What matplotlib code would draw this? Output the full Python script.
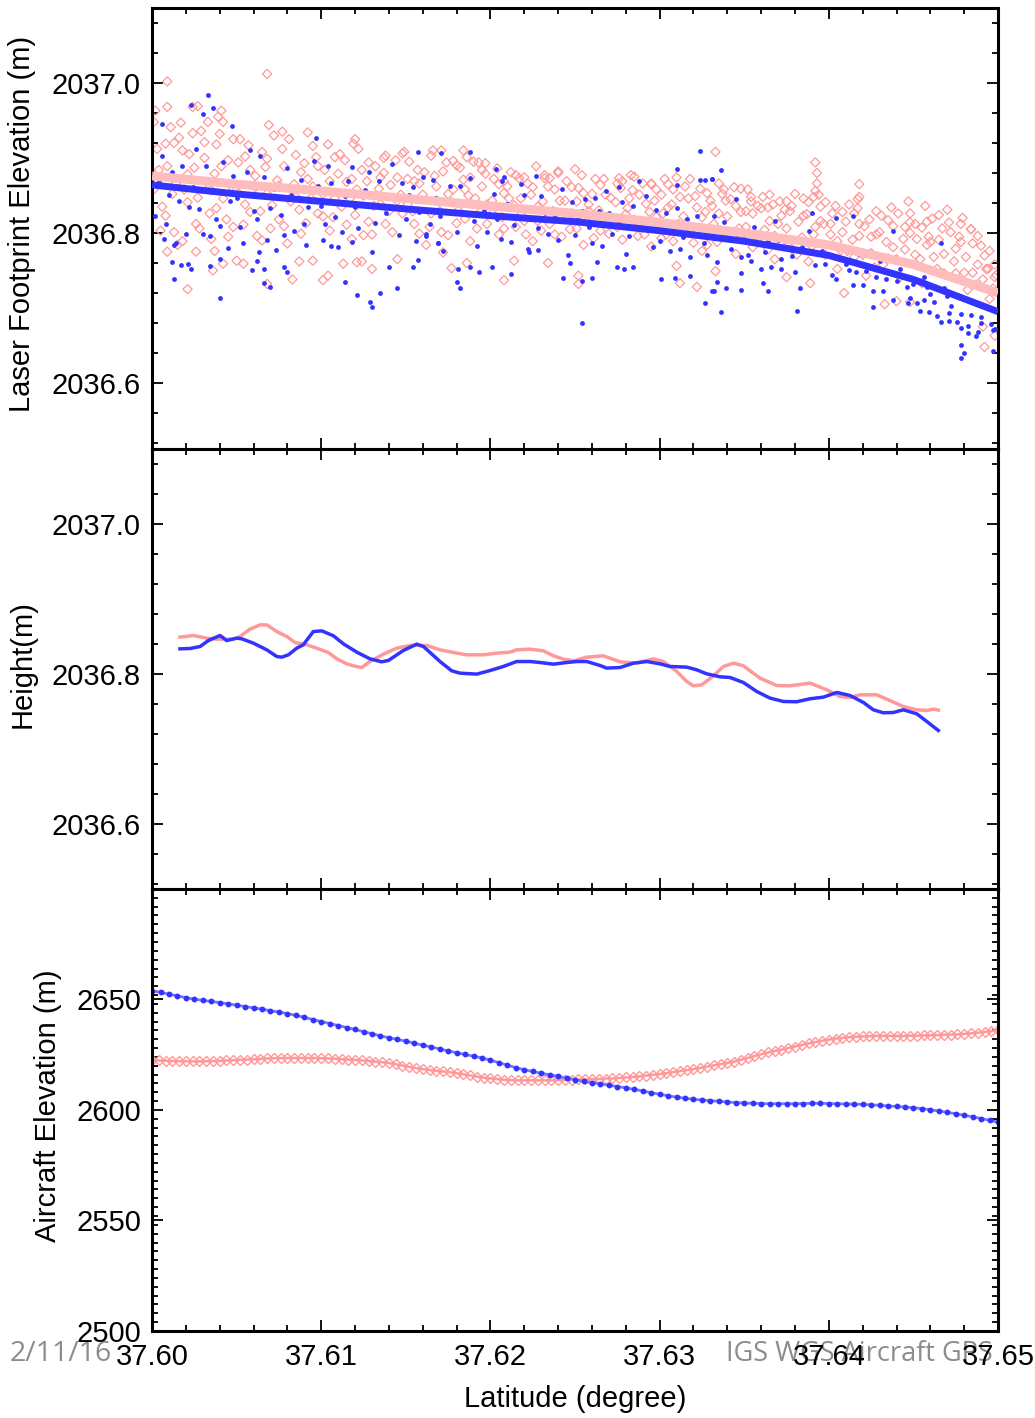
import numpy as np
import matplotlib
matplotlib.use("Agg")
import matplotlib.pyplot as plt
from matplotlib.ticker import MultipleLocator, FixedLocator, FormatStrFormatter

plt.rcParams["font.family"] = ["Liberation Sans", "DejaVu Sans"]

# ---- laser footprint elevations (lat, elev) ----
laser_pink_pts = [
    # dense core
    (37.6003, 2036.912), (37.6006, 2036.835), (37.6009, 2036.889), (37.6013, 2036.801), (37.6016, 2036.927),
    (37.6019, 2036.858), (37.6022, 2036.905), (37.6026, 2036.812), (37.6029, 2036.936), (37.6032, 2036.868),
    (37.6035, 2036.792), (37.6038, 2036.918), (37.6042, 2036.846), (37.6045, 2036.897), (37.6048, 2036.808),
    (37.6052, 2036.925), (37.6055, 2036.838), (37.6058, 2036.884), (37.6062, 2036.796), (37.6065, 2036.908),
    (37.6068, 2036.852), (37.6072, 2036.930), (37.6075, 2036.818), (37.6078, 2036.889), (37.6082, 2036.842),
    (37.6085, 2036.904), (37.6088, 2036.799), (37.6092, 2036.872), (37.6095, 2036.916), (37.6098, 2036.826),
    (37.6102, 2036.884), (37.6105, 2036.803), (37.6108, 2036.901), (37.6112, 2036.835), (37.6115, 2036.868),
    (37.6118, 2036.792), (37.6122, 2036.912), (37.6125, 2036.850), (37.6128, 2036.815), (37.6132, 2036.889),
    (37.6135, 2036.838), (37.6138, 2036.903), (37.6142, 2036.801), (37.6145, 2036.874), (37.6148, 2036.826),
    (37.6152, 2036.895), (37.6155, 2036.812), (37.6158, 2036.866), (37.6162, 2036.784), (37.6165, 2036.903),
    (37.6168, 2036.843), (37.6172, 2036.882), (37.6175, 2036.797), (37.6178, 2036.858), (37.6182, 2036.887),
    (37.6185, 2036.819), (37.6188, 2036.874), (37.6192, 2036.806), (37.6195, 2036.862), (37.6198, 2036.838),
    (37.6202, 2036.872), (37.6205, 2036.798), (37.6208, 2036.853), (37.6212, 2036.881), (37.6215, 2036.808),
    (37.6218, 2036.846), (37.6222, 2036.866), (37.6225, 2036.789), (37.6228, 2036.835), (37.6232, 2036.877),
    (37.6235, 2036.812), (37.6238, 2036.858), (37.6242, 2036.795), (37.6245, 2036.869), (37.6248, 2036.826),
    (37.6252, 2036.860), (37.6255, 2036.784), (37.6258, 2036.838), (37.6262, 2036.872), (37.6265, 2036.803),
    (37.6268, 2036.851), (37.6272, 2036.818), (37.6275, 2036.866), (37.6278, 2036.791), (37.6282, 2036.846),
    (37.6285, 2036.875), (37.6288, 2036.808), (37.6292, 2036.839), (37.6295, 2036.782), (37.6298, 2036.858),
    (37.6302, 2036.826), (37.6305, 2036.865), (37.6308, 2036.789), (37.6312, 2036.848), (37.6315, 2036.806),
    (37.6318, 2036.872), (37.6322, 2036.834), (37.6325, 2036.776), (37.6328, 2036.853), (37.6332, 2036.812),
    (37.6335, 2036.866), (37.6338, 2036.795), (37.6342, 2036.845), (37.6345, 2036.772), (37.6348, 2036.828),
    (37.6352, 2036.858), (37.6355, 2036.781), (37.6358, 2036.836), (37.6362, 2036.804), (37.6365, 2036.851),
    (37.6368, 2036.765), (37.6372, 2036.823), (37.6375, 2036.842), (37.6378, 2036.779), (37.6382, 2036.815),
    (37.6385, 2036.846), (37.6388, 2036.762), (37.6392, 2036.808), (37.6395, 2036.835), (37.6398, 2036.771),
    (37.6402, 2036.826), (37.6405, 2036.752), (37.6408, 2036.801), (37.6412, 2036.838), (37.6415, 2036.768),
    (37.6418, 2036.812), (37.6422, 2036.743), (37.6425, 2036.795), (37.6428, 2036.829), (37.6432, 2036.758),
    (37.6435, 2036.817), (37.6438, 2036.781), (37.6442, 2036.741), (37.6445, 2036.808), (37.6448, 2036.826),
    (37.6452, 2036.792), (37.6455, 2036.733), (37.6458, 2036.815), (37.6462, 2036.768), (37.6465, 2036.824),
    (37.6468, 2036.746), (37.6472, 2036.801), (37.6475, 2036.779), (37.6478, 2036.812), (37.6482, 2036.724),
    (37.6485, 2036.786), (37.6488, 2036.758), (37.6492, 2036.770), (37.6495, 2036.712), (37.6498, 2036.741),
    (37.6001, 2036.858), (37.6004, 2036.884), (37.6008, 2036.823), (37.6011, 2036.941), (37.6014, 2036.866),
    (37.6018, 2036.789), (37.6021, 2036.878), (37.6024, 2036.933), (37.6027, 2036.847), (37.6031, 2036.900),
    (37.6034, 2036.826), (37.6037, 2036.879), (37.6040, 2036.932), (37.6044, 2036.818), (37.6047, 2036.862),
    (37.6051, 2036.894), (37.6054, 2036.811), (37.6057, 2036.917), (37.6061, 2036.861), (37.6064, 2036.829),
    (37.6067, 2036.888), (37.6070, 2036.806), (37.6074, 2036.870), (37.6077, 2036.912), (37.6080, 2036.786),
    (37.6084, 2036.865), (37.6087, 2036.831), (37.6090, 2036.893), (37.6094, 2036.846), (37.6097, 2036.901),
    (37.6101, 2036.852), (37.6104, 2036.918), (37.6107, 2036.821), (37.6110, 2036.879), (37.6114, 2036.897),
    (37.6117, 2036.846), (37.6120, 2036.824), (37.6124, 2036.884), (37.6127, 2036.869), (37.6130, 2036.798),
    (37.6134, 2036.859), (37.6137, 2036.880), (37.6140, 2036.829), (37.6144, 2036.897), (37.6147, 2036.851),
    (37.6151, 2036.872), (37.6154, 2036.829), (37.6157, 2036.884), (37.6160, 2036.851), (37.6164, 2036.808),
    (37.6167, 2036.876), (37.6170, 2036.829), (37.6174, 2036.894), (37.6177, 2036.841), (37.6180, 2036.813),
    (37.6184, 2036.871), (37.6187, 2036.850), (37.6190, 2036.895), (37.6194, 2036.828), (37.6197, 2036.879),
    (37.6201, 2036.843), (37.6204, 2036.886), (37.6207, 2036.821), (37.6210, 2036.862), (37.6214, 2036.837),
    (37.6217, 2036.873), (37.6220, 2036.816), (37.6224, 2036.851), (37.6227, 2036.889), (37.6230, 2036.803),
    (37.6234, 2036.862), (37.6237, 2036.829), (37.6240, 2036.880), (37.6244, 2036.843), (37.6247, 2036.805),
    (37.6251, 2036.842), (37.6254, 2036.877), (37.6257, 2036.815), (37.6260, 2036.852), (37.6264, 2036.830),
    (37.6267, 2036.872), (37.6270, 2036.799), (37.6274, 2036.841), (37.6277, 2036.860), (37.6280, 2036.825),
    (37.6284, 2036.857), (37.6287, 2036.796), (37.6290, 2036.866), (37.6294, 2036.828), (37.6297, 2036.843),
    (37.6301, 2036.851), (37.6304, 2036.798), (37.6307, 2036.838), (37.6310, 2036.874), (37.6314, 2036.822),
    (37.6317, 2036.846), (37.6320, 2036.787), (37.6324, 2036.859), (37.6327, 2036.828), (37.6330, 2036.843),
    (37.6334, 2036.788), (37.6337, 2036.852), (37.6340, 2036.822), (37.6344, 2036.861), (37.6347, 2036.806),
    (37.6351, 2036.829), (37.6354, 2036.848), (37.6357, 2036.796), (37.6360, 2036.833), (37.6364, 2036.778),
    (37.6367, 2036.838), (37.6370, 2036.812), (37.6374, 2036.791), (37.6377, 2036.829), (37.6380, 2036.852),
    (37.6384, 2036.794), (37.6387, 2036.825), (37.6390, 2036.783), (37.6394, 2036.851), (37.6397, 2036.812),
    (37.6401, 2036.798), (37.6404, 2036.836), (37.6407, 2036.777), (37.6410, 2036.815), (37.6414, 2036.791),
    (37.6417, 2036.845), (37.6420, 2036.771), (37.6424, 2036.818), (37.6427, 2036.754), (37.6430, 2036.801),
    (37.6434, 2036.788), (37.6437, 2036.834), (37.6440, 2036.765), (37.6444, 2036.792), (37.6447, 2036.842),
    (37.6451, 2036.812), (37.6454, 2036.765), (37.6457, 2036.836), (37.6460, 2036.788), (37.6464, 2036.752),
    (37.6467, 2036.806), (37.6470, 2036.831), (37.6474, 2036.762), (37.6477, 2036.795), (37.6480, 2036.747),
    (37.6484, 2036.805), (37.6487, 2036.731), (37.6490, 2036.783), (37.6494, 2036.752), (37.6497, 2036.726),
    (37.6002, 2036.871), (37.6005, 2036.803), (37.6008, 2036.919), (37.6012, 2036.852), (37.6015, 2036.784),
    (37.6018, 2036.910), (37.6021, 2036.841), (37.6025, 2036.887), (37.6028, 2036.806), (37.6031, 2036.921),
    (37.6035, 2036.857), (37.6038, 2036.833), (37.6041, 2036.889), (37.6045, 2036.795), (37.6048, 2036.925),
    (37.6051, 2036.853), (37.6055, 2036.902), (37.6058, 2036.828), (37.6061, 2036.876), (37.6065, 2036.790),
    (37.6068, 2036.899), (37.6071, 2036.837), (37.6075, 2036.863), (37.6078, 2036.809), (37.6081, 2036.925),
    (37.6085, 2036.848), (37.6088, 2036.881), (37.6091, 2036.813), (37.6095, 2036.862), (37.6098, 2036.889),
    (37.6101, 2036.822), (37.6105, 2036.869), (37.6108, 2036.846), (37.6111, 2036.905), (37.6115, 2036.811),
    (37.6118, 2036.872), (37.6121, 2036.858), (37.6125, 2036.797), (37.6128, 2036.894), (37.6131, 2036.836),
    (37.6135, 2036.874), (37.6138, 2036.812), (37.6141, 2036.864), (37.6145, 2036.843), (37.6148, 2036.906),
    (37.6151, 2036.838), (37.6155, 2036.869), (37.6158, 2036.799), (37.6161, 2036.881), (37.6165, 2036.826),
    (37.6168, 2036.862), (37.6171, 2036.801), (37.6175, 2036.852), (37.6178, 2036.896), (37.6181, 2036.830),
    (37.6185, 2036.858), (37.6188, 2036.789), (37.6191, 2036.846), (37.6195, 2036.884), (37.6198, 2036.812),
    (37.6201, 2036.826), (37.6205, 2036.865), (37.6208, 2036.806), (37.6211, 2036.846), (37.6215, 2036.877),
    (37.6218, 2036.824), (37.6221, 2036.798), (37.6225, 2036.861), (37.6228, 2036.816), (37.6231, 2036.842),
    (37.6235, 2036.873), (37.6238, 2036.798), (37.6241, 2036.843), (37.6245, 2036.819), (37.6248, 2036.861),
    (37.6251, 2036.806), (37.6255, 2036.853), (37.6258, 2036.829), (37.6261, 2036.793), (37.6265, 2036.864),
    (37.6268, 2036.821), (37.6271, 2036.847), (37.6275, 2036.808), (37.6278, 2036.869), (37.6281, 2036.833),
    (37.6285, 2036.817), (37.6288, 2036.851), (37.6291, 2036.798), (37.6295, 2036.866), (37.6298, 2036.821),
    (37.6301, 2036.793), (37.6305, 2036.834), (37.6308, 2036.858), (37.6311, 2036.812), (37.6315, 2036.862),
    (37.6318, 2036.801), (37.6321, 2036.849), (37.6325, 2036.821), (37.6328, 2036.784), (37.6331, 2036.836),
    (37.6335, 2036.826), (37.6338, 2036.858), (37.6341, 2036.798), (37.6345, 2036.836), (37.6348, 2036.859),
    (37.6351, 2036.808), (37.6355, 2036.826), (37.6358, 2036.788), (37.6361, 2036.848), (37.6365, 2036.816),
    (37.6368, 2036.796), (37.6371, 2036.842), (37.6375, 2036.806), (37.6378, 2036.836), (37.6381, 2036.771),
    (37.6385, 2036.823), (37.6388, 2036.841), (37.6391, 2036.798), (37.6395, 2036.816), (37.6398, 2036.841),
    (37.6401, 2036.812), (37.6405, 2036.789), (37.6408, 2036.828), (37.6411, 2036.776), (37.6415, 2036.826),
    (37.6418, 2036.796), (37.6421, 2036.809), (37.6425, 2036.773), (37.6428, 2036.798), (37.6431, 2036.823),
    (37.6435, 2036.766), (37.6438, 2036.809), (37.6441, 2036.826), (37.6445, 2036.778), (37.6448, 2036.814),
    (37.6451, 2036.771), (37.6455, 2036.807), (37.6458, 2036.784), (37.6461, 2036.819), (37.6465, 2036.791),
    (37.6468, 2036.772), (37.6471, 2036.814), (37.6475, 2036.746), (37.6478, 2036.788), (37.6481, 2036.768),
    (37.6485, 2036.747), (37.6488, 2036.796), (37.6491, 2036.738), (37.6495, 2036.776), (37.6498, 2036.758),
    # scattered outliers
    (37.6068, 2037.012), (37.6009, 2037.002), (37.6009, 2036.968), (37.6002, 2036.963), (37.6024, 2036.968),
    (37.6027, 2036.969), (37.6041, 2036.963), (37.6021, 2036.725), (37.6068, 2036.732), (37.6083, 2036.738),
    (37.6101, 2036.737), (37.6104, 2036.743), (37.6036, 2036.750), (37.6130, 2036.752), (37.6042, 2036.759),
    (37.6054, 2036.759), (37.6050, 2036.763), (37.6087, 2036.762), (37.6095, 2036.763), (37.6113, 2036.759),
    (37.6121, 2036.761), (37.6124, 2036.762), (37.6145, 2036.765), (37.6009, 2036.775), (37.6026, 2036.775),
    (37.6037, 2036.776), (37.6033, 2036.948), (37.6039, 2036.955), (37.6042, 2036.948), (37.6069, 2036.944),
    (37.6077, 2036.935), (37.6092, 2036.934), (37.6120, 2036.925), (37.6119, 2036.919), (37.6001, 2036.948),
    (37.6017, 2036.947), (37.6013, 2036.920), (37.6166, 2036.910), (37.6149, 2036.908), (37.6137, 2036.900),
    (37.6171, 2036.910), (37.6184, 2036.910), (37.6186, 2036.901), (37.6193, 2036.894), (37.6197, 2036.893),
    (37.6180, 2036.890), (37.6250, 2036.885), (37.6240, 2036.882), (37.6283, 2036.877), (37.6276, 2036.873),
    (37.6295, 2036.865), (37.6303, 2036.872), (37.6333, 2036.908), (37.6208, 2036.869), (37.6220, 2036.874),
    (37.6232, 2036.873), (37.6208, 2036.737), (37.6252, 2036.743), (37.6252, 2036.732), (37.6234, 2036.760),
    (37.6177, 2036.753), (37.6214, 2036.763), (37.6186, 2036.760), (37.6172, 2036.774), (37.6322, 2036.728),
    (37.6312, 2036.733), (37.6333, 2036.749), (37.6310, 2036.756), (37.6392, 2036.894), (37.6393, 2036.880),
    (37.6393, 2036.866), (37.6392, 2036.856), (37.6391, 2036.848), (37.6418, 2036.865), (37.6418, 2036.848),
    (37.6417, 2036.833), (37.6479, 2036.820), (37.6484, 2036.805), (37.6339, 2036.843), (37.6354, 2036.842),
    (37.6374, 2036.831), (37.6364, 2036.834), (37.6448, 2036.800), (37.6459, 2036.795), (37.6493, 2036.752),
    (37.6499, 2036.744), (37.6375, 2036.741), (37.6389, 2036.733), (37.6409, 2036.720), (37.6433, 2036.705),
    (37.6440, 2036.709), (37.6492, 2036.648), (37.6498, 2036.663), (37.6491, 2036.675), (37.6448, 2036.708),
]

laser_blue_pts = [
    # dense core
    (37.6002, 2036.822), (37.6006, 2036.903), (37.6010, 2036.851), (37.6014, 2036.786), (37.6018, 2036.889),
    (37.6022, 2036.835), (37.6026, 2036.912), (37.6030, 2036.798), (37.6034, 2036.867), (37.6038, 2036.818),
    (37.6042, 2036.895), (37.6046, 2036.842), (37.6052, 2036.808), (37.6056, 2036.881), (37.6060, 2036.829),
    (37.6064, 2036.902), (37.6068, 2036.791), (37.6072, 2036.858), (37.6076, 2036.824), (37.6080, 2036.887),
    (37.6084, 2036.803), (37.6088, 2036.871), (37.6092, 2036.835), (37.6096, 2036.896), (37.6102, 2036.812),
    (37.6106, 2036.866), (37.6110, 2036.781), (37.6114, 2036.849), (37.6118, 2036.888), (37.6122, 2036.806),
    (37.6126, 2036.857), (37.6130, 2036.774), (37.6134, 2036.869), (37.6138, 2036.826), (37.6142, 2036.892),
    (37.6146, 2036.797), (37.6152, 2036.851), (37.6156, 2036.789), (37.6160, 2036.874), (37.6164, 2036.812),
    (37.6168, 2036.847), (37.6172, 2036.776), (37.6176, 2036.862), (37.6180, 2036.801), (37.6184, 2036.838),
    (37.6188, 2036.873), (37.6192, 2036.783), (37.6196, 2036.829), (37.6202, 2036.852), (37.6206, 2036.792),
    (37.6210, 2036.838), (37.6214, 2036.811), (37.6218, 2036.865), (37.6222, 2036.778), (37.6226, 2036.829),
    (37.6230, 2036.849), (37.6234, 2036.798), (37.6238, 2036.824), (37.6242, 2036.858), (37.6246, 2036.771),
    (37.6252, 2036.818), (37.6256, 2036.845), (37.6260, 2036.787), (37.6264, 2036.829), (37.6268, 2036.856),
    (37.6272, 2036.799), (37.6276, 2036.814), (37.6280, 2036.772), (37.6284, 2036.836), (37.6288, 2036.805),
    (37.6292, 2036.849), (37.6296, 2036.781), (37.6302, 2036.812), (37.6306, 2036.776), (37.6310, 2036.833),
    (37.6314, 2036.795), (37.6318, 2036.768), (37.6322, 2036.822), (37.6326, 2036.786), (37.6330, 2036.808),
    (37.6334, 2036.761), (37.6338, 2036.815), (37.6342, 2036.779), (37.6346, 2036.798), (37.6352, 2036.771),
    (37.6356, 2036.808), (37.6360, 2036.752), (37.6364, 2036.789), (37.6368, 2036.816), (37.6372, 2036.765),
    (37.6376, 2036.792), (37.6380, 2036.748), (37.6384, 2036.781), (37.6388, 2036.803), (37.6392, 2036.757),
    (37.6396, 2036.776), (37.6402, 2036.744), (37.6406, 2036.781), (37.6410, 2036.758), (37.6414, 2036.731),
    (37.6418, 2036.772), (37.6422, 2036.749), (37.6426, 2036.722), (37.6430, 2036.763), (37.6434, 2036.738),
    (37.6438, 2036.711), (37.6442, 2036.752), (37.6446, 2036.728), (37.6452, 2036.706), (37.6456, 2036.741),
    (37.6460, 2036.718), (37.6464, 2036.689), (37.6468, 2036.726), (37.6472, 2036.702), (37.6476, 2036.681),
    (37.6480, 2036.712), (37.6484, 2036.691), (37.6488, 2036.668), (37.6492, 2036.703), (37.6496, 2036.679),
    (37.6004, 2036.868), (37.6008, 2036.812), (37.6012, 2036.881), (37.6016, 2036.842), (37.6020, 2036.798),
    (37.6024, 2036.861), (37.6028, 2036.832), (37.6032, 2036.889), (37.6040, 2036.809), (37.6048, 2036.876),
    (37.6050, 2036.846), (37.6054, 2036.787), (37.6058, 2036.862), (37.6062, 2036.819), (37.6066, 2036.874),
    (37.6070, 2036.833), (37.6078, 2036.797), (37.6082, 2036.851), (37.6090, 2036.812), (37.6098, 2036.862),
    (37.6100, 2036.836), (37.6104, 2036.889), (37.6108, 2036.821), (37.6112, 2036.801), (37.6116, 2036.869),
    (37.6120, 2036.835), (37.6128, 2036.881), (37.6132, 2036.813), (37.6140, 2036.846), (37.6148, 2036.866),
    (37.6150, 2036.819), (37.6154, 2036.861), (37.6158, 2036.828), (37.6162, 2036.796), (37.6166, 2036.871),
    (37.6170, 2036.823), (37.6178, 2036.842), (37.6182, 2036.862), (37.6190, 2036.816), (37.6198, 2036.801),
    (37.6200, 2036.836), (37.6204, 2036.818), (37.6208, 2036.874), (37.6212, 2036.788), (37.6216, 2036.832),
    (37.6220, 2036.851), (37.6228, 2036.806), (37.6232, 2036.826), (37.6240, 2036.791), (37.6248, 2036.841),
    (37.6250, 2036.797), (37.6254, 2036.829), (37.6258, 2036.808), (37.6262, 2036.846), (37.6266, 2036.782),
    (37.6270, 2036.826), (37.6278, 2036.841), (37.6282, 2036.796), (37.6290, 2036.819), (37.6298, 2036.831),
    (37.6300, 2036.789), (37.6304, 2036.826), (37.6308, 2036.803), (37.6312, 2036.778), (37.6316, 2036.818),
    (37.6320, 2036.797), (37.6328, 2036.771), (37.6332, 2036.823), (37.6340, 2036.801), (37.6348, 2036.768),
    (37.6350, 2036.792), (37.6354, 2036.762), (37.6358, 2036.798), (37.6362, 2036.774), (37.6366, 2036.754),
    (37.6370, 2036.791), (37.6378, 2036.769), (37.6382, 2036.792), (37.6390, 2036.776), (37.6398, 2036.758),
    (37.6400, 2036.771), (37.6404, 2036.739), (37.6408, 2036.766), (37.6412, 2036.751), (37.6416, 2036.748),
    (37.6420, 2036.731), (37.6428, 2036.741), (37.6432, 2036.722), (37.6440, 2036.736), (37.6448, 2036.713),
    (37.6450, 2036.732), (37.6454, 2036.696), (37.6458, 2036.728), (37.6462, 2036.708), (37.6466, 2036.681),
    (37.6470, 2036.716), (37.6478, 2036.692), (37.6482, 2036.676), (37.6490, 2036.688), (37.6498, 2036.672),
    # scattered outliers
    (37.6033, 2036.984), (37.6023, 2036.971), (37.6036, 2036.967), (37.6030, 2036.959), (37.6047, 2036.943),
    (37.6006, 2036.945), (37.6058, 2036.911), (37.6097, 2036.927), (37.6157, 2036.908), (37.6040, 2036.713),
    (37.6130, 2036.701), (37.6129, 2036.708), (37.6135, 2036.720), (37.6121, 2036.717), (37.6145, 2036.726),
    (37.6114, 2036.734), (37.6070, 2036.728), (37.6066, 2036.733), (37.6013, 2036.739), (37.6017, 2036.757),
    (37.6021, 2036.759), (37.6023, 2036.752), (37.6012, 2036.761), (37.6034, 2036.756), (37.6040, 2036.765),
    (37.6059, 2036.751), (37.6062, 2036.763), (37.6066, 2036.752), (37.6078, 2036.755), (37.6080, 2036.748),
    (37.6140, 2036.754), (37.6154, 2036.755), (37.6157, 2036.764), (37.6007, 2036.792), (37.6013, 2036.784),
    (37.6034, 2036.796), (37.6045, 2036.780), (37.6063, 2036.774), (37.6073, 2036.777), (37.6091, 2036.784),
    (37.6106, 2036.782), (37.6118, 2036.788), (37.6101, 2036.791), (37.6162, 2036.799), (37.6169, 2036.787),
    (37.6188, 2036.908), (37.6171, 2036.906), (37.6203, 2036.885), (37.6227, 2036.876), (37.6310, 2036.885),
    (37.6324, 2036.909), (37.6324, 2036.871), (37.6327, 2036.871), (37.6331, 2036.872), (37.6288, 2036.869),
    (37.6310, 2036.864), (37.6207, 2036.869), (37.6276, 2036.861), (37.6254, 2036.680), (37.6180, 2036.734),
    (37.6182, 2036.727), (37.6212, 2036.745), (37.6181, 2036.752), (37.6193, 2036.748), (37.6188, 2036.754),
    (37.6201, 2036.754), (37.6243, 2036.740), (37.6254, 2036.736), (37.6260, 2036.740), (37.6275, 2036.755),
    (37.6279, 2036.752), (37.6284, 2036.755), (37.6301, 2036.738), (37.6309, 2036.740), (37.6318, 2036.743),
    (37.6327, 2036.706), (37.6331, 2036.722), (37.6334, 2036.735), (37.6263, 2036.761), (37.6169, 2036.786),
    (37.6223, 2036.774), (37.6247, 2036.760), (37.6228, 2036.777), (37.6336, 2036.884), (37.6331, 2036.872),
    (37.6345, 2036.845), (37.6414, 2036.823), (37.6404, 2036.820), (37.6390, 2036.827), (37.6438, 2036.803),
    (37.6466, 2036.786), (37.6336, 2036.694), (37.6381, 2036.696), (37.6332, 2036.722), (37.6339, 2036.726),
    (37.6348, 2036.724), (37.6364, 2036.723), (37.6361, 2036.733), (37.6348, 2036.746), (37.6372, 2036.752),
    (37.6383, 2036.726), (37.6426, 2036.701), (37.6447, 2036.707), (37.6459, 2036.695), (37.6471, 2036.693),
    (37.6478, 2036.673), (37.6478, 2036.651), (37.6478, 2036.633), (37.6480, 2036.640), (37.6482, 2036.666),
    (37.6487, 2036.663), (37.6497, 2036.643), (37.6497, 2036.671), (37.6490, 2036.680), (37.6471, 2036.682),
    (37.6456, 2036.711),
]

# smooth fits through the two footprint clouds
fit_lat = [37.600, 37.605, 37.610, 37.615, 37.620, 37.625, 37.630, 37.635, 37.640, 37.645, 37.650]
fit_blue = [2036.864, 2036.852, 2036.842, 2036.832, 2036.823, 2036.815, 2036.803, 2036.789, 2036.770, 2036.738, 2036.695]
fit_pink = [2036.876, 2036.865, 2036.856, 2036.846, 2036.836, 2036.826, 2036.814, 2036.800, 2036.784, 2036.758, 2036.720]

# ---- height profiles (lat, height) ----
height_pink = [
    (37.60165, 2036.8489), (37.60244, 2036.8511), (37.60323, 2036.8476), (37.60382, 2036.8462), (37.60481, 2036.8462),
    (37.60520, 2036.8498), (37.60579, 2036.8596), (37.60638, 2036.8653), (37.60678, 2036.8653), (37.60737, 2036.8564),
    (37.60796, 2036.8498), (37.60845, 2036.8418), (37.60914, 2036.8387), (37.60973, 2036.8342), (37.61042, 2036.8284),
    (37.61092, 2036.8200), (37.61151, 2036.8133), (37.61190, 2036.8107), (37.61239, 2036.8084), (37.61288, 2036.8164),
    (37.61367, 2036.8262), (37.61446, 2036.8342), (37.61525, 2036.8378), (37.61623, 2036.8378), (37.61702, 2036.8320),
    (37.61781, 2036.8284), (37.61860, 2036.8253), (37.61958, 2036.8253), (37.62037, 2036.8276), (37.62116, 2036.8289),
    (37.62155, 2036.8320), (37.62234, 2036.8329), (37.62313, 2036.8307), (37.62372, 2036.8240), (37.62431, 2036.8196),
    (37.62490, 2036.8173), (37.62569, 2036.8222), (37.62667, 2036.8240), (37.62766, 2036.8160), (37.62865, 2036.8142),
    (37.62963, 2036.8200), (37.63022, 2036.8164), (37.63101, 2036.8031), (37.63160, 2036.7898), (37.63199, 2036.7840),
    (37.63249, 2036.7853), (37.63318, 2036.7973), (37.63377, 2036.8098), (37.63436, 2036.8142), (37.63495, 2036.8107),
    (37.63593, 2036.7942), (37.63692, 2036.7844), (37.63771, 2036.7840), (37.63889, 2036.7876), (37.63988, 2036.7787),
    (37.64066, 2036.7698), (37.64125, 2036.7684), (37.64184, 2036.7720), (37.64283, 2036.7720), (37.64342, 2036.7662),
    (37.64440, 2036.7564), (37.64519, 2036.7520), (37.64579, 2036.7511), (37.64618, 2036.7529), (37.64647, 2036.7516),
]

height_blue = [
    (37.60165, 2036.8333), (37.60225, 2036.8338), (37.60284, 2036.8364), (37.60333, 2036.8444), (37.60402, 2036.8511),
    (37.60441, 2036.8444), (37.60501, 2036.8476), (37.60530, 2036.8467), (37.60599, 2036.8409), (37.60678, 2036.8320),
    (37.60737, 2036.8231), (37.60766, 2036.8222), (37.60806, 2036.8253), (37.60855, 2036.8342), (37.60894, 2036.8387),
    (37.60953, 2036.8564), (37.61003, 2036.8573), (37.61072, 2036.8507), (37.61131, 2036.8400), (37.61210, 2036.8289),
    (37.61288, 2036.8200), (37.61357, 2036.8160), (37.61397, 2036.8178), (37.61485, 2036.8311), (37.61564, 2036.8396),
    (37.61604, 2036.8364), (37.61702, 2036.8164), (37.61771, 2036.8040), (37.61820, 2036.8009), (37.61919, 2036.7996),
    (37.61998, 2036.8044), (37.62076, 2036.8098), (37.62155, 2036.8164), (37.62234, 2036.8164), (37.62293, 2036.8151),
    (37.62372, 2036.8129), (37.62451, 2036.8151), (37.62510, 2036.8164), (37.62569, 2036.8164), (37.62648, 2036.8111),
    (37.62687, 2036.8076), (37.62766, 2036.8084), (37.62845, 2036.8142), (37.62924, 2036.8164), (37.63002, 2036.8133),
    (37.63061, 2036.8098), (37.63160, 2036.8089), (37.63219, 2036.8053), (37.63278, 2036.8000), (37.63357, 2036.7960),
    (37.63416, 2036.7951), (37.63495, 2036.7884), (37.63574, 2036.7764), (37.63652, 2036.7676), (37.63731, 2036.7631),
    (37.63810, 2036.7627), (37.63889, 2036.7667), (37.63968, 2036.7689), (37.64047, 2036.7751), (37.64125, 2036.7711),
    (37.64204, 2036.7618), (37.64263, 2036.7520), (37.64322, 2036.7480), (37.64381, 2036.7484), (37.64440, 2036.7520),
    (37.64519, 2036.7467), (37.64579, 2036.7364), (37.64647, 2036.7244),
]

# ---- aircraft GPS elevations (lat, elev) ----
gps_blue = [
    (37.6000, 2654.0), (37.6005, 2653.2), (37.6010, 2652.4), (37.6015, 2651.6), (37.6020, 2650.8),
    (37.6025, 2650.1), (37.6030, 2649.6), (37.6035, 2649.1), (37.6040, 2648.6), (37.6045, 2648.0),
    (37.6050, 2647.4), (37.6055, 2646.8), (37.6060, 2646.2), (37.6065, 2645.6), (37.6070, 2644.9),
    (37.6075, 2644.3), (37.6080, 2643.6), (37.6085, 2642.8), (37.6090, 2641.9), (37.6095, 2640.9),
    (37.6100, 2640.0), (37.6105, 2639.1), (37.6110, 2638.2), (37.6115, 2637.3), (37.6120, 2636.4),
    (37.6125, 2635.4), (37.6130, 2634.5), (37.6135, 2633.5), (37.6140, 2632.7), (37.6145, 2631.9),
    (37.6150, 2631.1), (37.6155, 2630.2), (37.6160, 2629.3), (37.6165, 2628.5), (37.6170, 2627.6),
    (37.6175, 2626.7), (37.6180, 2625.9), (37.6185, 2625.1), (37.6190, 2624.3), (37.6195, 2623.5),
    (37.6200, 2622.5), (37.6205, 2621.4), (37.6210, 2620.3), (37.6215, 2619.1), (37.6220, 2618.2),
    (37.6225, 2617.4), (37.6230, 2616.6), (37.6235, 2615.9), (37.6240, 2615.2), (37.6245, 2614.4),
    (37.6250, 2613.7), (37.6255, 2612.9), (37.6260, 2612.3), (37.6265, 2611.8), (37.6270, 2611.2),
    (37.6275, 2610.6), (37.6280, 2610.0), (37.6285, 2609.3), (37.6290, 2608.6), (37.6295, 2607.8),
    (37.6300, 2607.1), (37.6305, 2606.4), (37.6310, 2605.8), (37.6315, 2605.3), (37.6320, 2604.8),
    (37.6325, 2604.5), (37.6330, 2604.2), (37.6335, 2603.9), (37.6340, 2603.6), (37.6345, 2603.3),
    (37.6350, 2603.1), (37.6355, 2603.0), (37.6360, 2602.9), (37.6365, 2602.8), (37.6370, 2602.8),
    (37.6375, 2602.8), (37.6380, 2602.8), (37.6385, 2602.9), (37.6390, 2603.0), (37.6395, 2603.0),
    (37.6400, 2602.9), (37.6405, 2602.8), (37.6410, 2602.7), (37.6415, 2602.6), (37.6420, 2602.5),
    (37.6425, 2602.3), (37.6430, 2602.1), (37.6435, 2601.8), (37.6440, 2601.6), (37.6445, 2601.3),
    (37.6450, 2601.0), (37.6455, 2600.6), (37.6460, 2600.1), (37.6465, 2599.5), (37.6470, 2598.9),
    (37.6475, 2598.3), (37.6480, 2597.6), (37.6485, 2596.9), (37.6490, 2596.1), (37.6495, 2595.3),
    (37.6500, 2594.5),
]

gps_pink = [
    (37.6000, 2622.6), (37.6004, 2622.4), (37.6008, 2622.3), (37.6012, 2622.2), (37.6016, 2622.1),
    (37.6020, 2622.0), (37.6024, 2622.0), (37.6028, 2622.0), (37.6032, 2622.1), (37.6036, 2622.1),
    (37.6040, 2622.2), (37.6044, 2622.4), (37.6048, 2622.5), (37.6052, 2622.7), (37.6056, 2622.8),
    (37.6060, 2623.0), (37.6064, 2623.1), (37.6068, 2623.3), (37.6072, 2623.4), (37.6076, 2623.5),
    (37.6080, 2623.5), (37.6084, 2623.5), (37.6088, 2623.5), (37.6092, 2623.5), (37.6096, 2623.5),
    (37.6100, 2623.4), (37.6104, 2623.3), (37.6108, 2623.2), (37.6112, 2623.0), (37.6116, 2622.8),
    (37.6120, 2622.6), (37.6124, 2622.4), (37.6128, 2622.2), (37.6132, 2621.9), (37.6136, 2621.6),
    (37.6140, 2621.2), (37.6144, 2620.7), (37.6148, 2620.1), (37.6152, 2619.5), (37.6156, 2618.9),
    (37.6160, 2618.5), (37.6164, 2618.1), (37.6168, 2617.7), (37.6172, 2617.4), (37.6176, 2617.1),
    (37.6180, 2616.6), (37.6184, 2616.1), (37.6188, 2615.6), (37.6192, 2615.1), (37.6196, 2614.6),
    (37.6200, 2614.3), (37.6204, 2614.0), (37.6208, 2613.7), (37.6212, 2613.5), (37.6216, 2613.4),
    (37.6220, 2613.4), (37.6224, 2613.4), (37.6228, 2613.4), (37.6232, 2613.4), (37.6236, 2613.4),
    (37.6240, 2613.5), (37.6244, 2613.6), (37.6248, 2613.7), (37.6252, 2613.8), (37.6256, 2613.8),
    (37.6260, 2613.9), (37.6264, 2614.0), (37.6268, 2614.2), (37.6272, 2614.3), (37.6276, 2614.5),
    (37.6280, 2614.7), (37.6284, 2614.9), (37.6288, 2615.2), (37.6292, 2615.5), (37.6296, 2615.9),
    (37.6300, 2616.2), (37.6304, 2616.6), (37.6308, 2617.1), (37.6312, 2617.6), (37.6316, 2618.0),
    (37.6320, 2618.5), (37.6324, 2619.0), (37.6328, 2619.6), (37.6332, 2620.2), (37.6336, 2620.7),
    (37.6340, 2621.3), (37.6344, 2621.9), (37.6348, 2622.7), (37.6352, 2623.5), (37.6356, 2624.4),
    (37.6360, 2625.2), (37.6364, 2626.0), (37.6368, 2626.7), (37.6372, 2627.3), (37.6376, 2628.0),
    (37.6380, 2628.7), (37.6384, 2629.4), (37.6388, 2630.1), (37.6392, 2630.7), (37.6396, 2631.3),
    (37.6400, 2631.8), (37.6404, 2632.3), (37.6408, 2632.6), (37.6412, 2632.9), (37.6416, 2633.1),
    (37.6420, 2633.3), (37.6424, 2633.4), (37.6428, 2633.5), (37.6432, 2633.5), (37.6436, 2633.5),
    (37.6440, 2633.5), (37.6444, 2633.5), (37.6448, 2633.6), (37.6452, 2633.6), (37.6456, 2633.7),
    (37.6460, 2633.8), (37.6464, 2633.9), (37.6468, 2634.0), (37.6472, 2634.1), (37.6476, 2634.2),
    (37.6480, 2634.4), (37.6484, 2634.7), (37.6488, 2635.0), (37.6492, 2635.3), (37.6496, 2635.7),
    (37.6500, 2636.1),
]

BLUE = "#3333ff"
PINK = "#ff9999"
PINK_FIT = "#ffbcbc"


def style_axis(ax, yticks, yminor, yfmt, show_x):
    ax.set_xlim(37.60, 37.65)
    ax.xaxis.set_major_locator(MultipleLocator(0.01))
    ax.xaxis.set_minor_locator(MultipleLocator(0.002))
    ax.xaxis.set_major_formatter(FormatStrFormatter("%.2f"))
    ax.yaxis.set_major_locator(FixedLocator(yticks))
    ax.yaxis.set_minor_locator(MultipleLocator(yminor))
    ax.yaxis.set_major_formatter(FormatStrFormatter(yfmt))
    ax.tick_params(which="both", direction="in", top=True, right=True,
                   labelsize=21, width=1.3, color="black")
    ax.tick_params(which="major", length=8)
    ax.tick_params(which="minor", length=4)
    ax.tick_params(axis="y", pad=8)
    ax.tick_params(axis="x", pad=9, labelbottom=show_x)
    for sp in ax.spines.values():
        sp.set_linewidth(2.2)


fig = plt.figure(figsize=(10.35, 14.18), dpi=100)
ax1 = fig.add_axes([0.1469, 0.6834, 0.8174, 0.3110])
ax2 = fig.add_axes([0.1469, 0.3731, 0.8174, 0.3103])
ax3 = fig.add_axes([0.1469, 0.0614, 0.8174, 0.3117])

# top: laser footprint elevations with fitted trends
pl, pe = np.array(laser_pink_pts).T
bl, be = np.array(laser_blue_pts).T
ax1.scatter(pl, pe, marker="D", s=22, facecolors="none", edgecolors=PINK, linewidths=0.9, zorder=2)
ax1.scatter(bl, be, marker="o", s=12, color=BLUE, linewidths=0, zorder=3)
ax1.plot(fit_lat, fit_pink, color=PINK_FIT, lw=6.5, solid_capstyle="butt", zorder=4)
ax1.plot(fit_lat, fit_blue, color=BLUE, lw=5, solid_capstyle="butt", zorder=5)
ax1.set_ylim(2036.512, 2037.1)
style_axis(ax1, [2036.6, 2036.8, 2037.0], 0.04, "%.1f", False)
ax1.set_ylabel("Laser Footprint Elevation (m)", fontsize=21)
ax1.yaxis.set_label_coords(-0.137, 0.51)

# middle: height profiles
hp_lat, hp_h = np.array(height_pink).T
hb_lat, hb_h = np.array(height_blue).T
ax2.plot(hp_lat, hp_h, color=PINK, lw=2.5)
ax2.plot(hb_lat, hb_h, color=BLUE, lw=2.5)
ax2.set_ylim(2036.513, 2037.1)
style_axis(ax2, [2036.6, 2036.8, 2037.0], 0.04, "%.1f", False)
ax2.set_ylabel("Height(m)", fontsize=21)
ax2.yaxis.set_label_coords(-0.137, 0.51)

# bottom: aircraft GPS elevation
gp_lat, gp_e = np.array(gps_pink).T
gb_lat, gb_e = np.array(gps_blue).T
ax3.plot(gp_lat, gp_e, color=PINK, lw=1.8, marker="D", markersize=4.8,
         markerfacecolor="none", markeredgecolor=PINK, markeredgewidth=1.0)
ax3.plot(gb_lat, gb_e, color="#7777ff", lw=2.0, marker="o", markersize=3.2,
         markerfacecolor=BLUE, markeredgecolor=BLUE)
ax3.set_ylim(2500, 2700)
style_axis(ax3, [2500, 2550, 2600, 2650], 4, "%d", True)
ax3.set_ylabel("Aircraft Elevation (m)", fontsize=21)
ax3.yaxis.set_label_coords(-0.106, 0.51)
ax3.set_xlabel("Latitude (degree)", fontsize=21, labelpad=10)

# slide footer
fig.text(0.009, 0.0448, "2/11/16", fontsize=20.5, color="#8c8c8c",
         family=["Open Sans", "DejaVu Sans"], va="center", zorder=-1)
fig.text(0.701, 0.0448, "IGS WGS Aircraft GPS", fontsize=19.5, color="#8c8c8c",
         family=["Open Sans", "DejaVu Sans"], va="center", zorder=-1)

fig.savefig("out.png", dpi=100)
